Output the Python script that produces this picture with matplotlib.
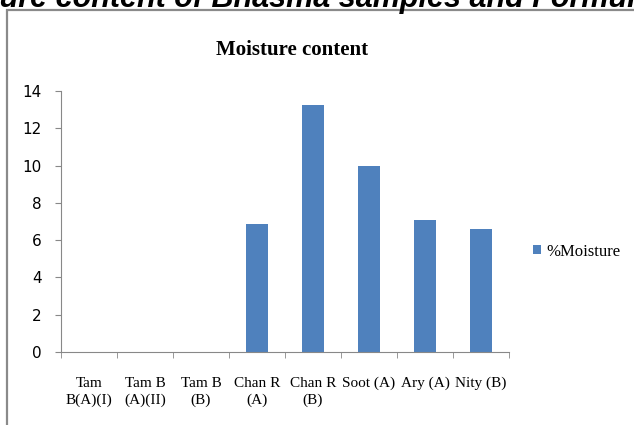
import matplotlib.pyplot as plt
from matplotlib.patches import Rectangle

categories = ['Tam\nB(A)(I)', 'Tam B\n(A)(II)', 'Tam B\n(B)', 'Chan R\n(A)', 'Chan R\n(B)',
              'Soot (A)', 'Ary (A)', 'Nity (B)']
moisture = [0, 0, 0, 6.85, 13.25, 10.0, 7.1, 6.6]

fig = plt.figure(figsize=(6.34, 4.25), dpi=100)

# cropped heading from the page above the chart: shift so that "ure" starts at the left edge
head_kw = dict(fontsize=22, fontweight='bold', fontstyle='italic', family='Liberation Sans')
renderer = fig.canvas.get_renderer()
tmp = fig.text(0, 0, 'Moist', **head_kw)
w = tmp.get_window_extent(renderer).width
tmp.remove()
fig.text(-w / 634, 1 - 7 / 425, 'Moisture content of Bhasma samples and Formulations',
         ha='left', va='baseline', **head_kw)

# chart frame
fig.patches.append(Rectangle((7/634, -0.01), 1.0, 1 - 10/425 + 0.01, transform=fig.transFigure,
                             fill=False, edgecolor='#8a8a8a', linewidth=1.6))

ax = fig.add_axes([61/634, 1 - 352/425, 448/634, 261/425])
x = range(len(categories))
ax.bar(x, moisture, width=0.38, color='#4f81bd', label='%Moisture')
ax.set_xlim(-0.5, len(categories) - 0.5)
ax.set_ylim(0, 14)
ax.set_yticks(range(0, 15, 2))
ax.set_xticks(list(x))
ax.set_xticklabels(categories, family='Liberation Serif', fontsize=11, linespacing=1.35)
ax.set_xticks([i - 0.5 for i in range(len(categories) + 1)], minor=True)
ax.tick_params(axis='x', which='major', length=0, pad=18)
ax.tick_params(axis='x', which='minor', length=4, color='#888888')
ax.tick_params(axis='y', length=4, color='#888888', labelsize=11, pad=10)
for s in ['top', 'right']:
    ax.spines[s].set_visible(False)
for s in ['left', 'bottom']:
    ax.spines[s].set_color('#888888')
fig.text(292/634, 1 - 50/425, 'Moisture content', ha='center', va='center',
         family='Liberation Serif', fontweight='bold', fontsize=15)
ax.legend(loc='center left', bbox_to_anchor=(1.02, 0.385), frameon=False, handlelength=0.5,
          handleheight=0.5, handletextpad=0.3, prop={'family': 'Liberation Serif', 'size': 12})

fig.savefig('out.png', dpi=100)
